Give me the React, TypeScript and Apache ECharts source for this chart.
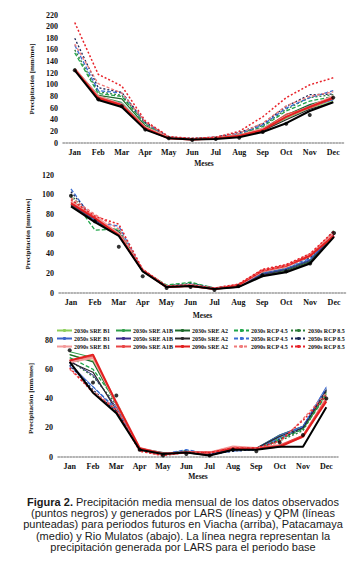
import React, { useEffect, useRef } from "react";
import * as echarts from "echarts";

const months = ["Jan", "Feb", "Mar", "Apr", "May", "Jun", "Jul", "Aug", "Sep", "Oct", "Nov", "Dec"];

const scenarioNames = [
  "2030s SRE B1", "2030s SRE A1B", "2030s SRE A2", "2030s RCP 4.5", "2030s RCP 8.5",
  "2050s SRE B1", "2050s SRE A1B", "2050s SRE A2", "2050s RCP 4.5", "2050s RCP 8.5",
  "2090s SRE B1", "2090s SRE A1B", "2090s SRE A2", "2090s RCP 4.5", "2090s RCP 8.5",
];

const yTicksViacha = { min: 0, max: 220, interval: 20 };
const yTicksPatacamaya = { min: 0, max: 120, interval: 20 };
const yTicksMulatos = { min: 0, max: 80, interval: 20 };

// Viacha (arriba)
const viachaObserved = [125, 75, 63, 23, 8, 5, 7, 9, 19, 33, 48, 78];
const viachaBase = [125, 74, 62, 23, 8, 6, 7, 10, 19, 34, 55, 70];
const viachaScenarios = [
  [127, 78, 65, 26, 9, 6, 8, 12, 22, 42, 60, 72],
  [128, 80, 70, 28, 9, 7, 8, 13, 24, 45, 63, 75],
  [128, 82, 76, 30, 9, 7, 9, 14, 25, 48, 66, 77],
  [155, 85, 80, 33, 9, 7, 9, 15, 28, 55, 72, 80],
  [160, 88, 82, 34, 10, 7, 10, 16, 30, 58, 78, 83],
  [126, 78, 66, 27, 9, 6, 8, 12, 23, 44, 62, 74],
  [127, 79, 68, 27, 9, 7, 8, 13, 24, 46, 64, 76],
  [126, 76, 64, 25, 8, 6, 8, 11, 21, 40, 58, 70],
  [168, 90, 86, 35, 10, 7, 10, 16, 31, 60, 78, 90],
  [180, 95, 87, 36, 10, 8, 10, 18, 33, 63, 83, 84],
  [127, 80, 66, 27, 9, 6, 8, 13, 24, 46, 62, 80],
  [127, 79, 66, 26, 9, 6, 8, 13, 23, 50, 60, 76],
  [126, 77, 65, 25, 8, 6, 8, 12, 22, 45, 62, 78],
  [170, 102, 86, 36, 10, 7, 10, 17, 34, 64, 80, 88],
  [207, 118, 98, 38, 11, 8, 10, 20, 45, 78, 100, 112],
];

// Patacamaya (medio)
const patacamayaObserved = [99, 73, 47, 17, 5, 6, 3, 7, 18, 22, 30, 61];
const patacamayaBase = [88, 72, 58, 22, 6, 7, 4, 6, 17, 21, 30, 57];
const patacamayaScenarios = [
  [90, 74, 60, 22, 6, 8, 4, 7, 19, 24, 32, 60],
  [91, 75, 61, 23, 6, 8, 4, 7, 19, 24, 33, 61],
  [90, 73, 62, 22, 6, 9, 4, 7, 19, 23, 32, 60],
  [98, 64, 65, 23, 8, 11, 5, 8, 20, 25, 33, 64],
  [100, 72, 63, 22, 7, 10, 5, 8, 20, 25, 34, 63],
  [92, 75, 61, 22, 6, 8, 4, 7, 20, 25, 34, 60],
  [90, 74, 60, 22, 6, 8, 4, 7, 19, 24, 33, 59],
  [89, 73, 59, 22, 6, 7, 4, 6, 18, 22, 31, 58],
  [106, 72, 68, 23, 7, 9, 5, 8, 21, 27, 35, 62],
  [103, 74, 62, 23, 7, 9, 5, 8, 21, 28, 36, 64],
  [93, 78, 60, 23, 6, 8, 4, 8, 22, 27, 38, 62],
  [92, 77, 58, 22, 6, 7, 4, 8, 22, 27, 37, 60],
  [91, 76, 59, 23, 6, 7, 4, 8, 23, 28, 38, 58],
  [97, 80, 65, 24, 7, 8, 5, 9, 23, 28, 40, 62],
  [95, 78, 70, 24, 7, 8, 5, 9, 24, 29, 40, 63],
];

// Rio Mulatos (abajo)
const mulatosObserved = [73, 51, 42, 5, 1, 2, 1, 5, 4, 10, 15, 40];
const mulatosBase = [65, 44, 30, 5, 2, 3, 1, 5, 5, 7, 7, 34];
const mulatosScenarios = [
  [70, 66, 36, 6, 2, 3, 2, 5, 6, 14, 20, 44],
  [72, 68, 37, 6, 2, 3, 2, 5, 6, 13, 19, 43],
  [70, 65, 36, 6, 2, 4, 2, 5, 6, 15, 21, 46],
  [68, 60, 38, 5, 2, 4, 2, 5, 5, 12, 19, 42],
  [66, 55, 36, 5, 2, 4, 2, 5, 5, 11, 18, 44],
  [64, 48, 32, 5, 2, 4, 2, 5, 6, 15, 21, 48],
  [66, 56, 34, 5, 2, 3, 2, 5, 6, 14, 20, 46],
  [65, 58, 32, 6, 3, 3, 1, 5, 6, 14, 20, 45],
  [62, 48, 33, 5, 2, 5, 2, 4, 5, 13, 21, 47],
  [63, 46, 31, 5, 2, 4, 2, 4, 5, 12, 20, 46],
  [65, 68, 37, 6, 2, 3, 3, 7, 6, 8, 14, 40],
  [66, 69, 37, 6, 2, 3, 3, 6, 6, 8, 15, 40],
  [66, 70, 37, 6, 2, 3, 3, 6, 6, 7, 14, 38],
  [60, 45, 33, 4, 1, 3, 3, 7, 6, 10, 26, 44],
  [61, 44, 32, 4, 1, 3, 3, 6, 6, 11, 25, 42],
];

const captionLines = [
  "{b|Figura 2.} Precipitación media mensual de los datos observados",
  "(puntos negros) y generados por LARS (líneas) y QPM (líneas",
  "punteadas) para periodos futuros en Viacha (arriba), Patacamaya",
  "(medio) y Rio Mulatos (abajo). La línea negra representan la",
  "precipitación generada por LARS para el periodo base",
];

const yAxisTitle = "Precipitación [mm/mes]";
const xAxisTitle = "Meses";

// styles (not data)
const scenarioStyles = [
  { color: "#8ccf5a", type: "solid", width: 1 },
  { color: "#2f9e4a", type: "solid", width: 1 },
  { color: "#1d6a2a", type: "solid", width: 1.2 },
  { color: "#1fa64a", type: [4, 2], width: 1.3 },
  { color: "#2e7d3a", type: [2, 2], width: 1.3 },
  { color: "#3d63c9", type: "solid", width: 1 },
  { color: "#3a2c8c", type: "solid", width: 1 },
  { color: "#2a2a2a", type: "solid", width: 1.2 },
  { color: "#3b6fd4", type: [4, 2], width: 1.3 },
  { color: "#1c2757", type: [2, 2], width: 1.3 },
  { color: "#f39a9a", type: "solid", width: 2.5 },
  { color: "#e94444", type: "solid", width: 1 },
  { color: "#e21f1f", type: "solid", width: 2 },
  { color: "#f07a7a", type: [3, 2], width: 1.3 },
  { color: "#e8232a", type: [2, 2], width: 1.5 },
];

const serif = "Liberation Serif";

export default function App() {
  const ref = useRef<HTMLDivElement>(null);

  useEffect(() => {
    if (!ref.current) return;
    const chart = echarts.init(ref.current, undefined, { renderer: "svg" });

    const grids = [
      { left: 63, top: 15, width: 282, height: 128 },
      { left: 59, top: 175, width: 287, height: 118 },
      { left: 58, top: 340, width: 280, height: 117 },
    ];
    const yTicks = [yTicksViacha, yTicksPatacamaya, yTicksMulatos];
    const yNameGaps = [24, 21, 20];
    const xNameGaps = [16, 18, 15];
    const obs = [viachaObserved, patacamayaObserved, mulatosObserved];
    const base = [viachaBase, patacamayaBase, mulatosBase];
    const scen = [viachaScenarios, patacamayaScenarios, mulatosScenarios];

    const xAxes = grids.map((_, i) => ({
      type: "category",
      gridIndex: i,
      data: months,
      boundaryGap: true,
      axisLine: { show: true, lineStyle: { color: "#9a9a9a", width: 1.5, type: "dotted" } },
      axisTick: { show: false },
      axisLabel: { fontFamily: serif, fontSize: 8, fontWeight: "bold", color: "#111", margin: 5, interval: 0 },
      name: xAxisTitle,
      nameLocation: "middle",
      nameGap: xNameGaps[i],
      nameTextStyle: { fontFamily: serif, fontSize: 7.5, color: "#111", fontWeight: "bold" },
      splitLine: { show: false },
    }));

    const yAxes = grids.map((_, i) => ({
      type: "value",
      gridIndex: i,
      min: yTicks[i].min,
      max: yTicks[i].max,
      interval: yTicks[i].interval,
      axisLine: { show: false },
      axisTick: { show: false },
      splitLine: { show: false },
      axisLabel: { fontFamily: serif, fontSize: 8, fontWeight: "bold", color: "#111", margin: 5 },
      name: yAxisTitle,
      nameLocation: "middle",
      nameRotate: 90,
      nameGap: yNameGaps[i],
      nameTextStyle: { fontFamily: serif, fontSize: 7, color: "#111", fontWeight: "bold" },
    }));

    const series: any[] = [];
    for (let g = 0; g < 3; g++) {
      scenarioNames.forEach((name, s) => {
        const st = scenarioStyles[s];
        series.push({
          type: "line",
          name,
          xAxisIndex: g,
          yAxisIndex: g,
          data: scen[g][s],
          symbol: "none",
          color: st.color,
          lineStyle: { color: st.color, type: st.type, width: st.width },
          z: 2,
        });
      });
      series.push({
        type: "line",
        name: "Base LARS",
        xAxisIndex: g,
        yAxisIndex: g,
        data: base[g],
        symbol: "none",
        color: "#000",
        lineStyle: { color: "#000", width: 2 },
        z: 3,
      });
      series.push({
        type: "scatter",
        name: "Observado",
        xAxisIndex: g,
        yAxisIndex: g,
        data: obs[g],
        symbol: "circle",
        symbolSize: 4,
        itemStyle: { color: "#000" },
        z: 4,
      });
    }

    const legendLefts = [56, 115, 174, 233, 290];
    const legends = legendLefts.map((left, c) => ({
      orient: "vertical",
      left,
      top: 327,
      padding: 0,
      itemGap: 1,
      itemWidth: 15,
      itemHeight: 4,
      data: [scenarioNames[c], scenarioNames[c + 5], scenarioNames[c + 10]],
      textStyle: { fontFamily: serif, fontSize: 6, fontWeight: "bold", color: "#111", lineHeight: 7, padding: [0, 0, 0, -3] },
      selectedMode: false,
    }));

    const caption = captionLines.map((text, i) => ({
      type: "text",
      x: 183,
      y: 502 + i * 11.2,
      style: {
        text,
        fontFamily: "Liberation Sans",
        fontSize: 11,
        fill: "#1a1a1a",
        align: "center",
        verticalAlign: "middle",
        rich: { b: { fontFamily: "Liberation Sans", fontSize: 11, fontWeight: "bold", fill: "#1a1a1a" } },
      },
    }));

    chart.setOption({
      animation: false,
      backgroundColor: "#fff",
      grid: grids,
      xAxis: xAxes,
      yAxis: yAxes,
      legend: legends,
      series,
      graphic: caption,
    });

    return () => chart.dispose();
  }, []);

  return <div ref={ref} style={{ position: "absolute", left: 0, top: 0, width: 361, height: 585 }} />;
}
